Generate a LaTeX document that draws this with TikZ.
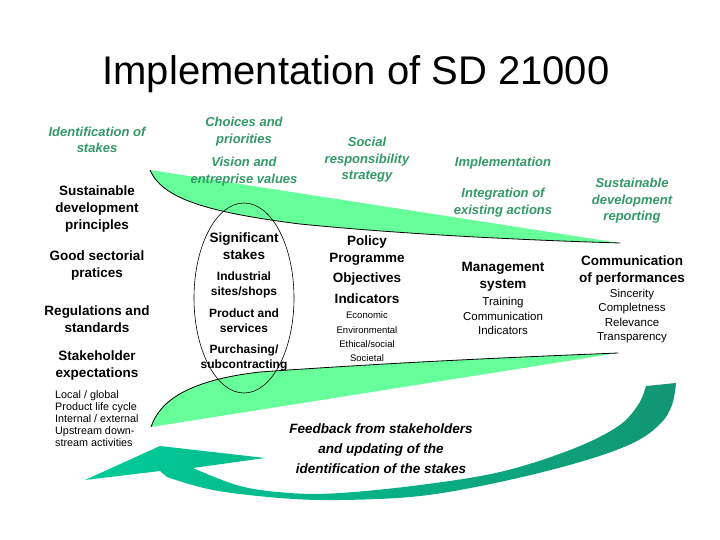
\documentclass[tikz,border=0pt]{standalone}
\usepackage{fontspec}
\setmainfont{Liberation Sans}
\definecolor{bandgreen}{RGB}{102,255,153}
\definecolor{labgreen}{RGB}{51,153,102}
\definecolor{arrowA}{RGB}{0,204,153}
\definecolor{arrowB}{RGB}{18,150,115}
\begin{document}
\begin{tikzpicture}[x=1pt,y=-1pt,
  greenlab/.style={text=labgreen, font=\fontsize{13}{16.5}\selectfont\bfseries\itshape, align=center, inner sep=0pt},
  blacklab/.style={font=\fontsize{13.5}{17}\selectfont\bfseries, align=center, inner sep=0pt},
  midlab/.style={font=\fontsize{12}{15.5}\selectfont\bfseries, align=center, inner sep=0pt},
  smalllab/.style={font=\fontsize{11.5}{14.5}\selectfont, align=center, inner sep=0pt},
  tinylab/.style={font=\fontsize{9.5}{14.3}\selectfont, align=center, inner sep=0pt},
  listlab/.style={font=\fontsize{10.8}{12}\selectfont, align=left, inner sep=0pt},
  feedlab/.style={font=\fontsize{13.5}{20}\selectfont\bfseries\itshape, align=center, inner sep=0pt},
  edgeline/.style={draw=black, line width=0.8pt},
  ovalline/.style={draw=black, line width=0.6pt}]
\fill[white] (0,0) rectangle (720,540);
\useasboundingbox (0,0) rectangle (720,540);

% upper band
\fill[bandgreen] (150,170) -- (620,243)
  .. controls (520,240) and (400,234) .. (300,224)
  .. controls (205,212) and (162,198) .. (150,170) -- cycle;
\draw[edgeline] (150,170) .. controls (162,198) and (205,212) .. (300,224)
  .. controls (400,234) and (520,240) .. (620,243);

% lower band
\fill[bandgreen] (151,427) .. controls (160,400) and (190,380) .. (260,372)
  .. controls (400,362) and (520,357) .. (618,353) -- cycle;
\draw[edgeline] (151,427) .. controls (160,400) and (190,380) .. (260,372)
  .. controls (400,362) and (520,357) .. (618,353);

% ellipse
\draw[ovalline] (244,298) ellipse[x radius=50, y radius=95];

% feedback arrow
\shade[left color=arrowA, middle color=arrowA, right color=arrowB]
  (85,480) -- (160,446) -- (265,458) -- (193,468)
  -- plot[smooth, tension=0.6] coordinates {(193,468) (240,486) (290,493) (340,493) (420,485) (500,472) (570,450) (617,427) (638,405) (646,386)}
  -- (676,383)
  -- plot[smooth, tension=0.6] coordinates {(676,383) (672,405) (660,424) (633,443) (580,462) (500,482) (420,496) (340,500) (280,498) (213,490) (167,477)}
  -- (160,471) -- cycle;

% title
\node[font=\fontsize{40}{48}\selectfont, anchor=base] (title) at (356,85) {Implementation of SD 21000};

% column 1
\node[greenlab] (idstakes) at (97,140) {Identification of\\stakes};
\node[blacklab] (sdprin) at (97,209) {Sustainable\\development\\principles};
\node[blacklab] (goodsec) at (97,265.5) {Good sectorial\\pratices};
\node[blacklab] (regs) at (97,319) {Regulations and\\standards};
\node[blacklab] (stakeexp) at (97,365.5) {Stakeholder\\expectations};
\node[listlab, anchor=west] (locals) at (55,419) {Local / global\\Product life cycle\\Internal / external\\Upstream down-\\stream activities};

% column 2
\node[greenlab] (choices) at (244,131.5) {Choices and\\priorities};
\node[greenlab] (vision) at (244,171.5) {Vision and\\entreprise values};
\node[blacklab] (signif) at (244,246) {Significant\\stakes};
\node[midlab] (indus) at (244,285) {Industrial\\sites/shops};
\node[midlab] (prod) at (244,320.5) {Product and\\services};
\node[midlab] (purch) at (244,358) {Purchasing/\\subcontracting};

% column 3
\node[greenlab] (social) at (367,160) {Social\\responsibility\\strategy};
\node[blacklab] (policy) at (367,250.5) {Policy\\Programme};
\node[blacklab] (objs) at (367,279) {Objectives};
\node[blacklab] (indic) at (367,299) {Indicators};
\node[tinylab] (dims) at (367,337) {Economic\\Environmental\\Ethical/social\\Societal};

% column 4
\node[greenlab] (implem) at (503,163) {Implementation};
\node[greenlab] (integ) at (503,202.5) {Integration of\\existing actions};
\node[blacklab] (mgmt) at (503,277) {Management\\system};
\node[smalllab] (mgmtlist) at (503,316) {Training\\Communication\\Indicators};

% column 5
\node[greenlab] (sdrep) at (632,201) {Sustainable\\development\\reporting};
\node[blacklab] (comm) at (632,271) {Communication\\of performances};
\node[smalllab] (commlist) at (632,316) {Sincerity\\Completness\\Relevance\\Transparency};

% feedback text
\node[feedlab] (feed) at (381,449) {Feedback from stakeholders\\and updating of the\\identification of the stakes};
\end{tikzpicture}
\end{document}
